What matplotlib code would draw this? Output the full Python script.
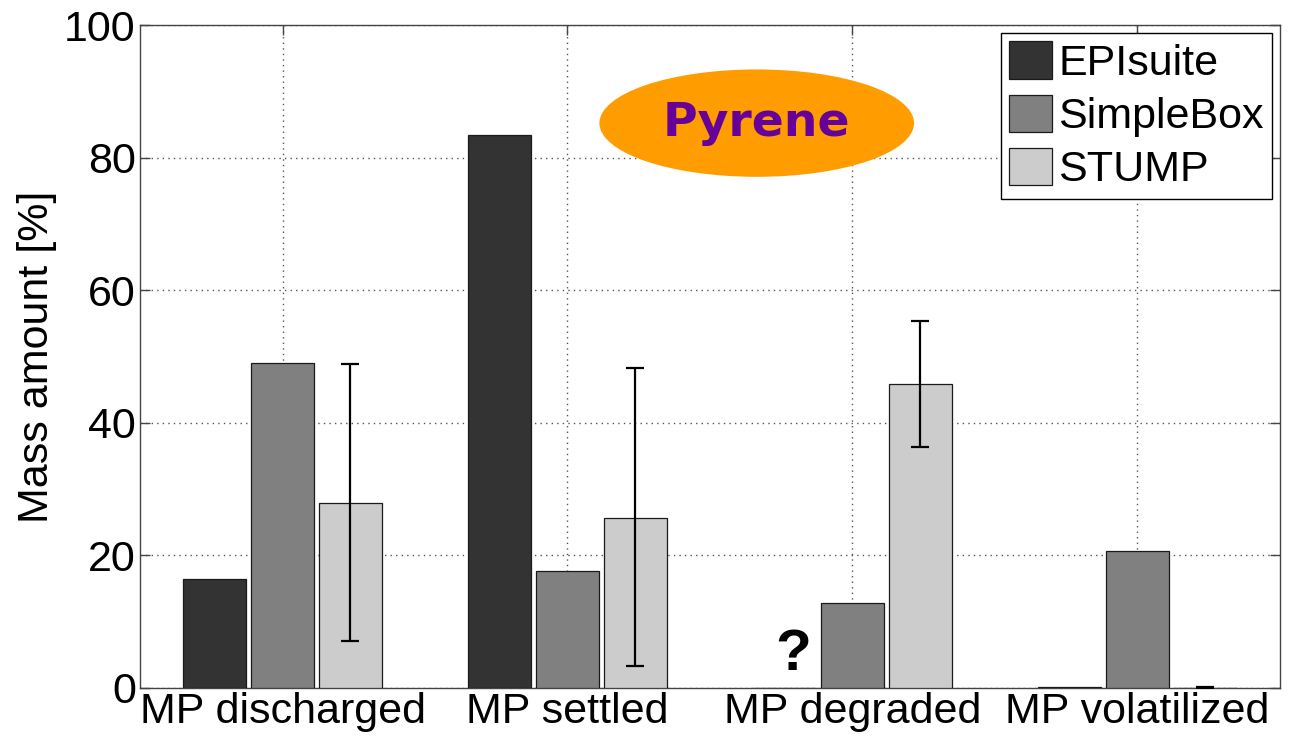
import numpy as np
import matplotlib
matplotlib.use('Agg')
import matplotlib.pyplot as plt
from matplotlib.patches import Ellipse

# values (mass amount in %)
categories = ['MP discharged', 'MP settled', 'MP degraded', 'MP volatilized']
models = ['EPIsuite', 'SimpleBox', 'STUMP']
episuite = [16.5, 83.4, 0.0, 0.15]
simplebox = [49.0, 17.6, 12.8, 20.6]
stump = [27.9, 25.6, 45.8, 0.0]
stump_low = [7.1, 3.3, 36.3, 0.0]
stump_high = [48.9, 48.3, 55.4, 0.1]

colors = ['#333333', '#808080', '#cccccc']

plt.rcParams['font.family'] = ['Liberation Sans', 'DejaVu Sans']

fig = plt.figure(figsize=(12.93, 7.40), dpi=100)
ax = fig.add_axes([0.1083, 0.0703, 0.8816, 0.8959])

x = np.arange(1, len(categories) + 1)
width = 0.22
offset = 0.238
for i, (vals, col) in enumerate(zip([episuite, simplebox, stump], colors)):
    ax.bar(x + (i - 1) * offset, vals, width, color=col, edgecolor='#1a1a1a',
           linewidth=0.9, label=models[i], zorder=3)

# error bars on STUMP
stump = np.array(stump)
yerr = [stump - np.array(stump_low), np.array(stump_high) - stump]
ax.errorbar(x + offset, stump, yerr=yerr, fmt='none', ecolor='black',
            elinewidth=1.6, capsize=6.5, capthick=1.6, zorder=4)

ax.set_xlim(0.5, 4.5)
ax.set_ylim(0, 100)
ax.set_yticks(range(0, 101, 20))
ax.set_xticks(x)
ax.set_xticklabels(categories)
ax.tick_params(labelsize=31, direction='in', length=7, width=1, color='#444444',
               right=True, top=True, pad=3)
ax.set_ylabel('Mass amount [%]', fontsize=31, labelpad=5)
ax.grid(True, linestyle=(0, (1, 3)), color='#555555', linewidth=1, zorder=0)
ax.set_axisbelow(True)
for s in ax.spines.values():
    s.set_linewidth(1)
    s.set_color('#444444')

leg = ax.legend(loc='upper right', fontsize=31, fancybox=False, framealpha=1,
                edgecolor='black', handlelength=0.98, handleheight=0.95,
                handletextpad=0.15, labelspacing=0.25, borderpad=0.2,
                borderaxespad=0.18)
leg.get_frame().set_linewidth(1)

# "Pyrene" label in orange ellipse
ax.add_patch(Ellipse((0.541, 0.852), 0.276, 0.162, transform=ax.transAxes,
                     facecolor='#ff9c00', edgecolor='none', zorder=5))
ax.text(0.541, 0.852, 'Pyrene', transform=ax.transAxes, ha='center',
        va='center', fontsize=34, fontweight='bold', color='#660099',
        family='DejaVu Sans', zorder=6)

# question mark for missing EPIsuite degradation value
ax.text(x[2] - offset + 0.03, 5.0, '?', ha='center', va='center', fontsize=42,
        fontweight='bold', color='black', zorder=6)

fig.savefig('out.png', dpi=100)
